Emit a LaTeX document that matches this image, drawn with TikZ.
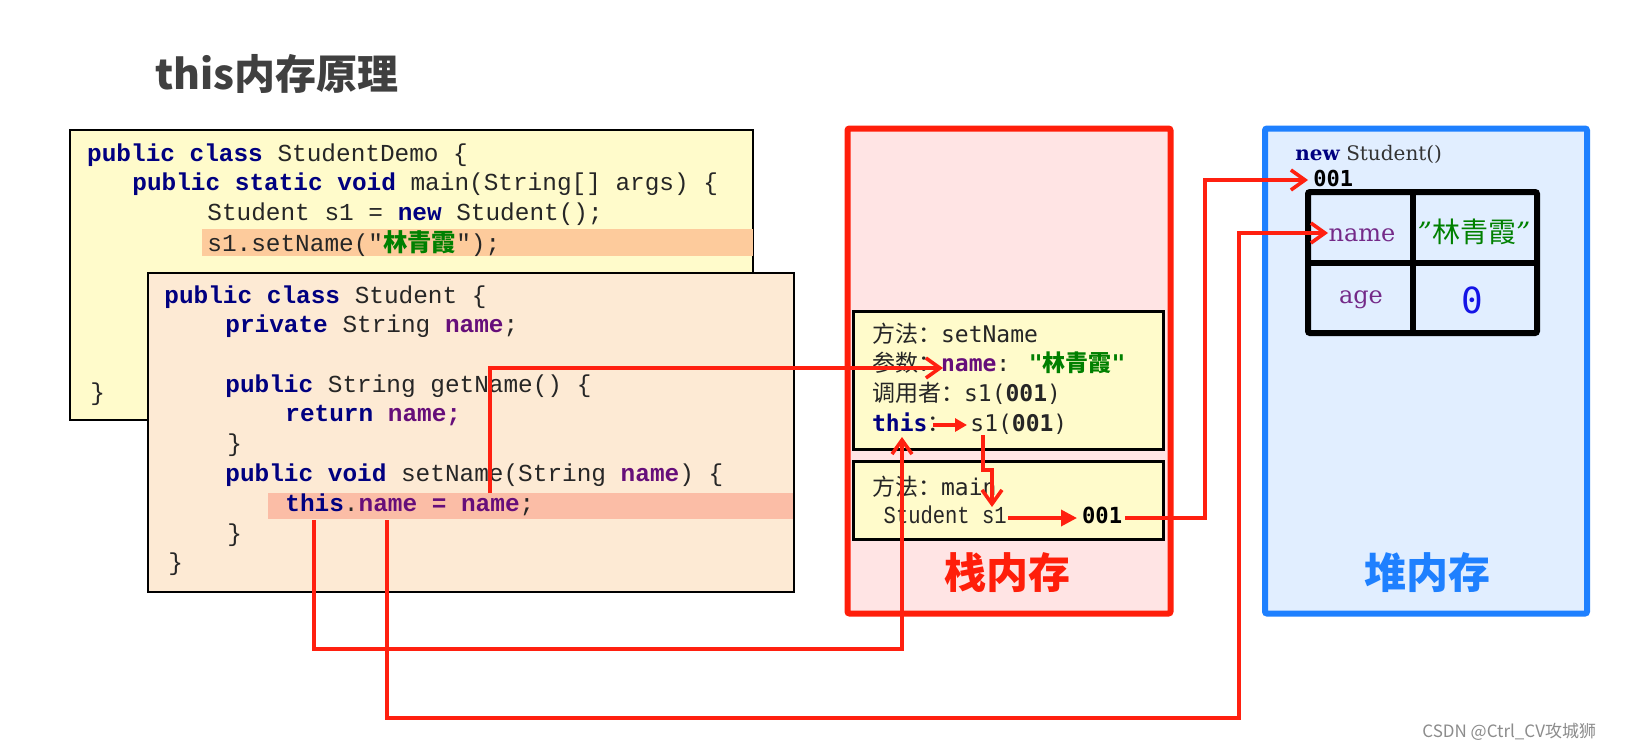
\documentclass[tikz,border=0pt]{standalone}
\usepackage{fontspec}
\setmainfont{Liberation Serif}
\newfontfamily\cmono{Liberation Mono}
\newfontfamily\cmonoc[FakeStretch=0.84]{Liberation Mono}
\newfontfamily\dmono{DejaVu Sans Mono}
\newfontfamily\dserif{DejaVu Serif}
\newfontfamily\cjk{Noto Sans CJK SC}
\usetikzlibrary{arrows.meta,fit}

\definecolor{kw}{HTML}{000080}
\definecolor{fld}{HTML}{660E7A}
\definecolor{strc}{HTML}{008000}
\definecolor{demofill}{HTML}{FFFBCB}
\definecolor{stufill}{HTML}{FDEAD4}
\definecolor{hlone}{HTML}{FDCB9C}
\definecolor{hltwo}{HTML}{FBBDA6}
\definecolor{stackfill}{HTML}{FFE4E4}
\definecolor{stackred}{HTML}{FF1E0A}
\definecolor{heapfill}{HTML}{E1EEFF}
\definecolor{heapblue}{HTML}{1E80FF}
\definecolor{arr}{HTML}{FF2010}
\definecolor{titlegray}{HTML}{404040}
\definecolor{cellpurple}{HTML}{742A88}
\definecolor{zeroblue}{HTML}{1414E6}

\newcommand\kwd[1]{{\bfseries\color{kw}#1}}
\newcommand\fldn[1]{{\bfseries\color{fld}#1}}
\newcommand\cj[1]{{\cjk #1}}

\tikzset{
  codeline/.style={anchor=base west, inner sep=0pt, text=black!85, font=\cmono\fontsize{12.2}{14}\selectfont},
  frameline/.style={anchor=base west, inner sep=0pt, text=black!85, font=\dmono\fontsize{11.5}{14}\selectfont},
  plainbox/.style={draw=black, line width=1pt, inner sep=0pt},
  membox/.style={inner sep=0pt, line width=3pt, rounded corners=1pt},
  wire/.style={draw=arr, line width=1.8pt},
  chev/.style={wire, -{Straight Barb[length=7pt,width=10pt,line width=1.8pt]}},
  tri/.style={wire, -{Triangle[length=8pt,width=8pt]}},
  trismall/.style={wire, -{Triangle[length=6pt,width=6.5pt]}},
}

\begin{document}
\begin{tikzpicture}[x=0.5pt,y=-0.5pt]
\useasboundingbox (0,0) rectangle (1629,751);
\fill[white] (0,0) rectangle (1629,751);

% title
\node[anchor=base west, inner sep=0pt, text=titlegray, font=\cjk\bfseries\fontsize{20.5}{24}\selectfont] (title) at (155,89) {this内存原理};

% ---------------- StudentDemo box
\node[plainbox, fill=demofill, fit={(70,130) (753,420)}] (demo) {};
\fill[hlone] (202,229) rectangle (753,256);
\node[codeline] (d1) at (86.8,161.7) {\kwd{public class} StudentDemo \{};
\node[codeline] (d2) at (132,190.7) {\kwd{public static void} main(String[] args) \{};
\node[codeline] (d3) at (207,220.7) {Student s1 = \kwd{new} Student();};
\node[codeline] (d4) at (207,251.7) {s1.setName("{\cjk\bfseries\color{strc}林青霞}");};
\node[codeline] (d5) at (90,400) {\}};

% ---------------- Student box
\node[plainbox, fill=stufill, fit={(147.5,272.7) (793.6,591.7)}] (stu) {};
\fill[hltwo] (267.5,493) rectangle (793,519);
\node[codeline] (s1) at (164,303.3) {\kwd{public class} Student \{};
\node[codeline] (s2) at (225,332.7) {\kwd{private} String \fldn{name};};
\node[codeline] (s3) at (225,392.7) {\kwd{public} String getName() \{};
\node[codeline] (s4) at (285,421.7) {\kwd{return} \fldn{name;}};
\node[codeline] (s5) at (227,451) {\}};
\node[codeline] (s6) at (225,481.7) {\kwd{public void} setName(String \fldn{name}) \{};
\node[codeline] (s7) at (285,511.7) {\kwd{this}.\fldn{name = name};};
\node[codeline] (s8) at (227,541.7) {\}};
\node[codeline] (s9) at (168,570.7) {\}};

% ---------------- stack
\node[membox, draw=stackred, fill=stackfill, fit={(847.5,128.5) (1170.5,613.5)}] (stack) {};
\node[plainbox, line width=1.5pt, fill=demofill, fit={(853,311) (1163,449)}] (fset) {};
\node[plainbox, line width=1.5pt, fill=demofill, fit={(853,461) (1163,539)}] (fmain) {};
\node[frameline] (t1) at (871.7,342.7) {\cj{方法：}setName};
\node[frameline] (t2) at (871.7,371.7) {\cj{参数：}\fldn{name}: {\bfseries\color{strc}"\cj{林青霞}"}};
\node[frameline] (t3) at (871.7,401.7) {\cj{调用者：}s1(\textbf{001})};
\node[frameline] (t4) at (871.7,431.7) {\kwd{this}\cj{：}};
\node[frameline] (t4b) at (970,431.7) {s1(\textbf{001})};
\node[frameline] (m1) at (871.7,495) {\cj{方法：}main};
\node[anchor=base west, inner sep=0pt, text=black!85, font=\cmonoc\fontsize{12.2}{14}\selectfont] (m2) at (883.3,523) {Student s1};
\node[anchor=base west, inner sep=0pt, font=\dmono\bfseries\fontsize{11.1}{14}\selectfont] (m3) at (1081.7,523) {001};
\node[text=stackred, font=\cjk\bfseries\fontsize{21}{24}\selectfont, inner sep=0pt] (stacklbl) at (1007.5,572.5) {栈内存};

% ---------------- heap
\node[membox, draw=heapblue, fill=heapfill, fit={(1265,128.5) (1587,613.5)}] (heap) {};
\node[anchor=base west, inner sep=0pt, font=\dserif\fontsize{10}{12}\selectfont] (h1) at (1295,160) {{\bfseries\color{kw}new} {\color{black!80}Student()}};
\node[anchor=base west, inner sep=0pt, font=\dmono\bfseries\fontsize{11}{13}\selectfont] (h2) at (1313,186.7) {001};
\node[draw=black, line width=3pt, rounded corners=1pt, inner sep=0pt, fit={(1308,192) (1537,333)}] (tbl) {};
\draw[line width=3pt] (1413,192) -- (1413,333);
\draw[line width=3pt] (1308,263) -- (1537,263);
\node[anchor=base, inner sep=0pt, text=cellpurple, font=\dserif\fontsize{12}{13}\selectfont] (cname) at (1362,241.7) {name};
\node[anchor=base, inner sep=0pt, text=strc, font=\cjk\fontsize{14}{15}\selectfont] (cval) at (1474,242) {{\dserif\itshape ”}林青霞{\dserif\itshape ”}};
\node[anchor=base, inner sep=0pt, text=cellpurple, font=\dserif\fontsize{12}{13}\selectfont] (cage) at (1361,303) {age};
\node[inner sep=0pt, text=zeroblue, font=\dmono\fontsize{18}{19}\selectfont] (czero) at (1472,300) {0};
\node[text=heapblue, font=\cjk\bfseries\fontsize{21}{24}\selectfont, inner sep=0pt] (heaplbl) at (1427.5,572.5) {堆内存};

% watermark
\node[anchor=base west, inner sep=0pt, text=black!45, font=\cjk\fontsize{8.5}{10}\selectfont] (wm) at (1422,737) {CSDN @Ctrl\_CV攻城狮};

% ---------------- connectors
\coordinate (a1s) at (490,493);
\coordinate (a1m) at (490,368);
\coordinate (a1e) at (943,368);
\draw[chev] (a1s) -- (a1m) -- (a1e);

\coordinate (a2s) at (314,520);
\coordinate (a2a) at (314,649);
\coordinate (a2b) at (902,649);
\coordinate (a2e) at (902,437);
\draw[chev] (a2s) -- (a2a) -- (a2b) -- (a2e);

\coordinate (a3s) at (387,520);
\coordinate (a3a) at (387,718);
\coordinate (a3b) at (1239,718);
\coordinate (a3c) at (1239,233);
\coordinate (a3e) at (1328,233);
\draw[chev] (a3s) -- (a3a) -- (a3b) -- (a3c) -- (a3e);

\coordinate (a4s) at (1125,518);
\coordinate (a4a) at (1205,518);
\coordinate (a4b) at (1205,180);
\coordinate (a4e) at (1308,180);
\draw[chev] (a4s) -- (a4a) -- (a4b) -- (a4e);

\coordinate (a5s) at (1008,518);
\coordinate (a5e) at (1077,518);
\draw[tri] (a5s) -- (a5e);

\coordinate (a6s) at (933,425);
\coordinate (a6e) at (967,425);
\draw[trismall] (a6s) -- (a6e);

\coordinate (a7s) at (983,435);
\coordinate (a7a) at (983,470);
\coordinate (a7b) at (992,470);
\coordinate (a7e) at (992,507);
\draw[chev] (a7s) -- (a7a) -- (a7b) -- (a7e);
\end{tikzpicture}
\end{document}
